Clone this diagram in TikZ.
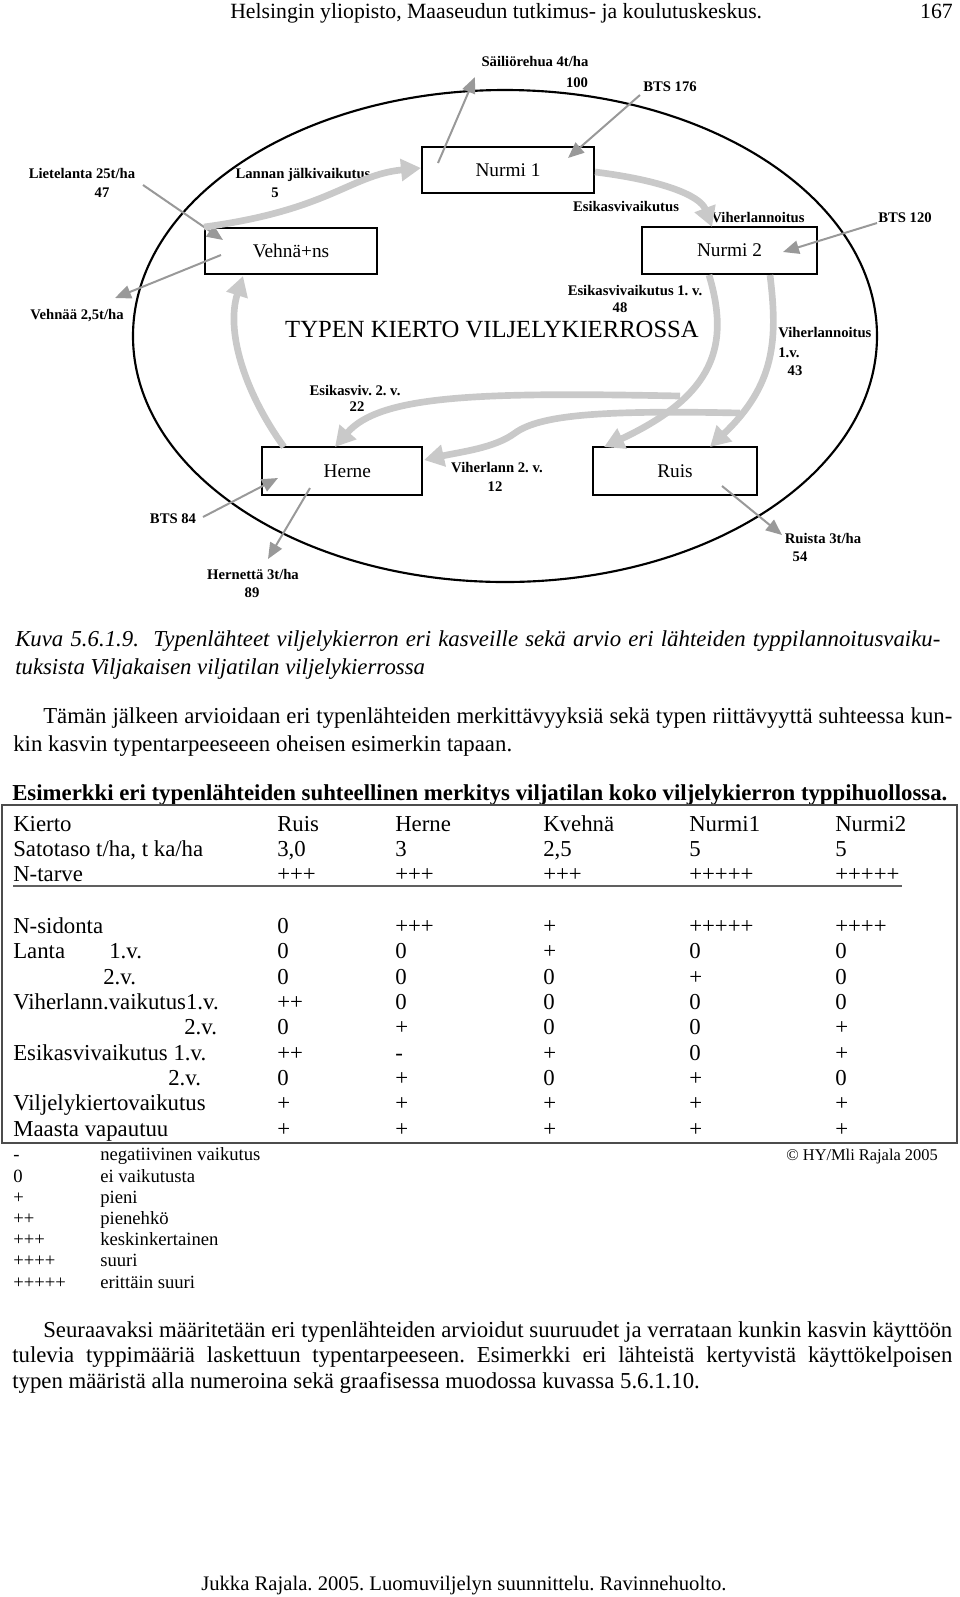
\documentclass[tikz,border=0pt]{standalone}
\usepackage{fontspec}
\setmainfont{Liberation Serif}
\usetikzlibrary{arrows.meta}
\frenchspacing
\newcommand\tvals[7]{%
  \node[txt,anchor=base west] (#1a) at (277,#2) {#3};
  \node[txt,anchor=base west] (#1b) at (395,#2) {#4};
  \node[txt,anchor=base west] (#1c) at (543,#2) {#5};
  \node[txt,anchor=base west] (#1d) at (689,#2) {#6};
  \node[txt,anchor=base west] (#1e) at (835,#2) {#7};}
\newcommand\legrow[4]{%
  \node[leg,anchor=base west] (#1s) at (13,#2) {#3};
  \node[leg,anchor=base west] (#1t) at (100,#2) {#4};}
\begin{document}
\begin{tikzpicture}[x=0.75pt,y=-0.75pt,
  txt/.style={inner sep=0pt, font=\fontsize{17.1}{19}\selectfont},
  leg/.style={inner sep=0pt, font=\fontsize{14}{16}\selectfont},
  lbl/.style={inner sep=0pt, font=\fontsize{11}{13}\selectfont\bfseries},
  cropbox/.style={draw=black, line width=1.5pt, inner sep=0pt, font=\fontsize{14.5}{16}\selectfont},
  thinarrow/.style={draw=gray!80, line width=1.5pt, -{Triangle[length=12pt,width=10pt]}},
  thickarrow/.style={draw=gray!42, line width=5pt, -{Triangle[length=15pt,width=16pt]}},
]
\useasboundingbox (0,0) rectangle (960,1597);

% header
\node[txt,anchor=base west,font=\fontsize{16.3}{19}\selectfont] (hdr) at (230,18) {Helsingin yliopisto, Maaseudun tutkimus- ja koulutuskeskus.};
\node[txt,anchor=base east,font=\fontsize{16.3}{19}\selectfont] (pg) at (953,18) {167};

% ---------------- diagram ----------------
\draw[line width=1.6pt] (505,336) ellipse [x radius=372, y radius=246];

\node[cropbox, minimum width=129pt, minimum height=34.5pt] (nurmi1) at (508,170) {Nurmi 1};
\node[cropbox, minimum width=129pt, minimum height=34.5pt] (vehna) at (291,251) {Vehnä+ns};
\node[cropbox, minimum width=131.25pt, minimum height=35pt] (nurmi2) at (729.5,250.5) {Nurmi 2};
\node[cropbox, minimum width=120pt, minimum height=36pt] (herne) at (342,471) {\hspace*{8pt}Herne};
\node[cropbox, minimum width=123pt, minimum height=36pt] (ruis) at (675,471) {Ruis};

\node[inner sep=0pt, font=\fontsize{18.5}{20}\selectfont] (title) at (492,330) {TYPEN KIERTO VILJELYKIERROSSA};

% labels
\node[lbl] (sail) at (535,61) {Säiliörehua 4t/ha};
\node[lbl] (sailn) at (577,83) {100};
\node[lbl] (bts176) at (670,87) {BTS 176};
\node[lbl] (liete) at (82,173) {Lietelanta 25t/ha};
\node[lbl] (lieten) at (102,193) {47};
\node[lbl] (lanna) at (303,175) {Lannan jälkivaikutus};
\node[lbl] (lannan) at (275,193) {5};
\node[lbl] (vehnaa) at (77,316) {Vehnää 2,5t/ha};
\node[lbl] (esik) at (626,206) {Esikasvivaikutus};
\node[lbl] (viher) at (758,218) {Viherlannoitus};
\node[lbl] (bts120) at (905,218) {BTS 120};
\node[lbl] (esik1) at (635,291) {Esikasvivaikutus 1. v.};
\node[lbl] (esik1n) at (620,308) {48};
\node[lbl,anchor=west] (viher1) at (778,333) {Viherlannoitus};
\node[lbl,anchor=west] (viher1v) at (778,353) {1.v.};
\node[lbl] (viher1n) at (795,371) {43};
\node[lbl] (esik2) at (355,391) {Esikasviv. 2. v.};
\node[lbl] (esik2n) at (357,407) {22};
\node[lbl] (viher2) at (497,468) {Viherlann 2. v.};
\node[lbl] (viher2n) at (495,487) {12};
\node[lbl] (bts84) at (173,519) {BTS 84};
\node[lbl] (hern3) at (253,574) {Hernettä 3t/ha};
\node[lbl] (hern3n) at (252,593) {89};
\node[lbl] (ruis3) at (823,538) {Ruista 3t/ha};
\node[lbl] (ruis3n) at (800,557) {54};

% thin arrow end points
\coordinate (a1s) at (438,163); \coordinate (a1e) at (475,77);
\coordinate (a2s) at (640,95);  \coordinate (a2e) at (568,158);
\coordinate (a3s) at (143,185); \coordinate (a3e) at (223,240);
\coordinate (a4s) at (221,255); \coordinate (a4e) at (115,298);
\coordinate (a5s) at (877,223); \coordinate (a5e) at (783,252);
\coordinate (a6s) at (203,517); \coordinate (a6e) at (278,478);
\coordinate (a7s) at (310,488); \coordinate (a7e) at (268,559);
\coordinate (a8s) at (722,486); \coordinate (a8e) at (782,535);
\draw[thinarrow] (a1s) -- (a1e);
\draw[thinarrow] (a2s) -- (a2e);
\draw[thinarrow] (a3s) -- (a3e);
\draw[thinarrow] (a4s) -- (a4e);
\draw[thinarrow] (a5s) -- (a5e);
\draw[thinarrow] (a6s) -- (a6e);
\draw[thinarrow] (a7s) -- (a7e);
\draw[thinarrow] (a8s) -- (a8e);

% thick arrows
\coordinate (tA) at (421,168);
\coordinate (tB) at (712,227);
\coordinate (tC) at (243,276);
\coordinate (tD) at (604,447);
\coordinate (tE) at (710,447);
\coordinate (tF) at (335,447);
\coordinate (tG) at (424,460);
\coordinate (bF) at (680,396);
\coordinate (bG) at (740,413);
\draw[thickarrow] (vehna.north west) .. controls (330,210) and (350,175) .. (tA);
\draw[thickarrow] (595,172) .. controls (660,180) and (700,195) .. (tB);
\draw[thickarrow] (284,447) .. controls (243,390) and (226,330) .. (tC);
\draw[thickarrow] (709,275) .. controls (730,345) and (715,395) .. (tD);
\draw[thickarrow] (770,275) .. controls (778,340) and (775,385) .. (tE);
\draw[thickarrow] (bF) .. controls (480,392) and (380,395) .. (tF);
\draw[thickarrow] (bG) .. controls (600,410) and (540,415) .. (515,433) .. controls (495,448) and (460,452) .. (tG);

% ---------------- text ----------------
\node[txt,anchor=base west,font=\fontsize{17.1}{19}\selectfont\itshape] (cap1) at (15,646) {\makebox[693.75pt][s]{Kuva 5.6.1.9.\ \ Typenlähteet viljelykierron eri kasveille sekä arvio eri lähteiden typpilannoitusvaiku-}};
\node[txt,anchor=base west,font=\fontsize{17.1}{19}\selectfont\itshape] (cap2) at (15,674) {tuksista Viljakaisen viljatilan viljelykierrossa};

\node[txt,anchor=base west] (p1a) at (43,723) {\makebox[681.75pt][s]{Tämän jälkeen arvioidaan eri typenlähteiden merkittävyyksiä sekä typen riittävyyttä suhteessa kun-}};
\node[txt,anchor=base west] (p1b) at (13,751) {kin kasvin typentarpeeseeen oheisen esimerkin tapaan.};

\node[txt,anchor=base west,font=\fontsize{17.1}{19}\selectfont\bfseries] (ttitle) at (12,800) {Esimerkki eri typenlähteiden suhteellinen merkitys viljatilan koko viljelykierron typpihuollossa.};

\draw[line width=1pt, draw=gray!60!black] (2,805) rectangle (957,1143);
\draw[line width=2.2pt, draw=gray!75!black] (13,886) -- (902,886);

\node[txt,anchor=base west] (l1) at (13,831) {Kierto};
\tvals{r1}{831}{Ruis}{Herne}{Kvehnä}{Nurmi1}{Nurmi2}
\node[txt,anchor=base west] (l2) at (13,856.5) {Satotaso t/ha, t ka/ha};
\tvals{r2}{856.5}{3,0}{3}{2,5}{5}{5}
\node[txt,anchor=base west] (l3) at (13,881.5) {N-tarve};
\tvals{r3}{881.5}{+++}{+++}{+++}{+++++}{+++++}
\node[txt,anchor=base west] (l4) at (13,933) {N-sidonta};
\tvals{r4}{933}{0}{+++}{+}{+++++}{++++}
\node[txt,anchor=base west] (l5) at (13,958.5) {Lanta};
\node[txt,anchor=base west] (l5b) at (109,958.5) {1.v.};
\tvals{r5}{958.5}{0}{0}{+}{0}{0}
\node[txt,anchor=base west] (l6) at (103,984) {2.v.};
\tvals{r6}{984}{0}{0}{0}{+}{0}
\node[txt,anchor=base west] (l7) at (13,1009) {Viherlann.vaikutus1.v.};
\tvals{r7}{1009}{++}{0}{0}{0}{0}
\node[txt,anchor=base west] (l8) at (184,1034.5) {2.v.};
\tvals{r8}{1034.5}{0}{+}{0}{0}{+}
\node[txt,anchor=base west] (l9) at (13,1060) {Esikasvivaikutus 1.v.};
\tvals{r9}{1060}{++}{-}{+}{0}{+}
\node[txt,anchor=base west] (l10) at (168,1085) {2.v.};
\tvals{r10}{1085}{0}{+}{0}{+}{0}
\node[txt,anchor=base west] (l11) at (13,1110.5) {Viljelykiertovaikutus};
\tvals{r11}{1110.5}{+}{+}{+}{+}{+}
\node[txt,anchor=base west] (l12) at (13,1136) {Maasta vapautuu};
\tvals{r12}{1136}{+}{+}{+}{+}{+}

\legrow{g1}{1160}{-}{negatiivinen vaikutus}
\legrow{g2}{1182}{0}{ei vaikutusta}
\legrow{g3}{1203}{+}{pieni}
\legrow{g4}{1224}{++}{pienehkö}
\legrow{g5}{1245}{+++}{keskinkertainen}
\legrow{g6}{1266}{++++}{suuri}
\legrow{g7}{1288}{+++++}{erittäin suuri}
\node[leg,anchor=base east,font=\fontsize{12.3}{14}\selectfont] (copy) at (938,1160) {© HY/Mli Rajala 2005};

\node[txt,anchor=base west] (p2a) at (43,1337) {\makebox[681.75pt][s]{Seuraavaksi määritetään eri typenlähteiden arvioidut suuruudet ja verrataan kunkin kasvin käyttöön}};
\node[txt,anchor=base west] (p2b) at (12,1362) {\makebox[705pt][s]{tulevia typpimääriä laskettuun typentarpeeseen. Esimerkki eri lähteistä kertyvistä käyttökelpoisen}};
\node[txt,anchor=base west] (p2c) at (12,1388) {typen määristä alla numeroina sekä graafisessa muodossa kuvassa 5.6.1.10.};

\node[txt,anchor=base west,font=\fontsize{15.5}{18}\selectfont] (foot) at (201,1590) {Jukka Rajala. 2005. Luomuviljelyn suunnittelu. Ravinnehuolto.};
\end{tikzpicture}
\end{document}
